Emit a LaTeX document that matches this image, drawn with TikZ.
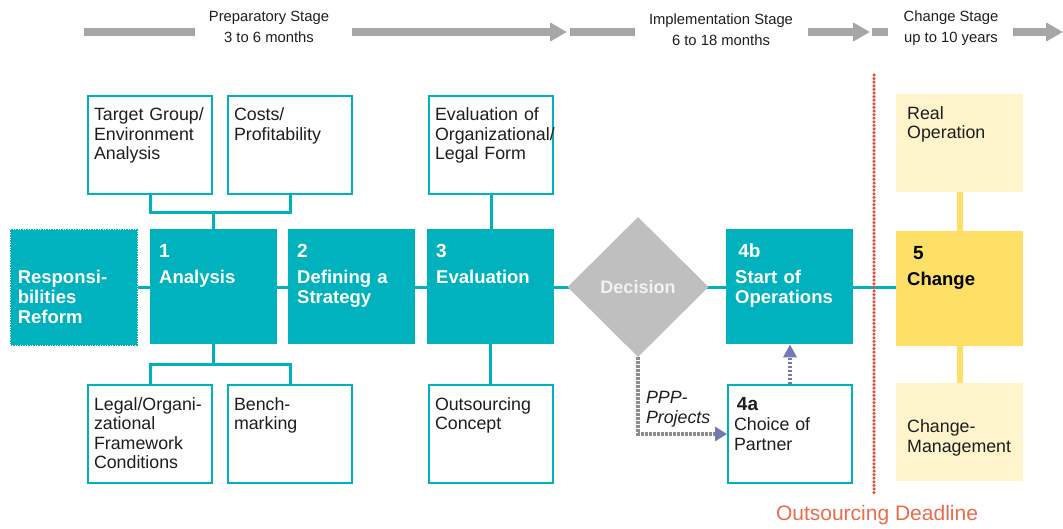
\documentclass[tikz,border=0pt]{standalone}
\usepackage{fontspec}
\setmainfont{Liberation Sans}
\usetikzlibrary{shapes.geometric,arrows.meta,backgrounds}

\definecolor{stepteal}{RGB}{0,178,190}
\definecolor{decgrey}{RGB}{191,191,191}
\definecolor{bargrey}{RGB}{166,166,166}
\definecolor{dotgrey}{RGB}{140,140,140}
\definecolor{arrowblue}{RGB}{116,120,180}
\definecolor{changeyellow}{RGB}{255,224,102}
\definecolor{paleyellow}{RGB}{255,244,204}
\definecolor{deadred}{RGB}{232,80,60}
\definecolor{deadtext}{RGB}{235,107,75}
\definecolor{textblack}{RGB}{30,30,30}

\begin{document}
\begin{tikzpicture}[x=1pt,y=-1pt,
    boxtext/.style={anchor=north west,align=left,inner xsep=6pt,inner ysep=6pt,
      text height=19pt,font=\fontsize{17.8}{19.5}\selectfont},
    subbox/.style={boxtext,draw=stepteal,line width=2pt,fill=white,text=textblack,
      text width=112pt,text depth=67pt},
    stepbox/.style={boxtext,fill=stepteal,text=white,text width=109pt,inner xsep=9pt,
      text height=22pt,text depth=81pt,font=\fontsize{18.5}{20}\selectfont\bfseries},
    yellowbox/.style={boxtext,fill=paleyellow,text=textblack,text width=105pt,
      inner xsep=11pt,text depth=67pt},
    link/.style={draw=stepteal,line width=3pt},
    yellowlink/.style={draw=changeyellow,line width=6pt},
    stagebar/.style={draw=bargrey,line width=8pt},
    stagearrow/.style={stagebar,-{Triangle[length=17pt,width=18pt]}},
    stagetext/.style={align=center,text=textblack,font=\fontsize{14.8}{21}\selectfont},
  ]
    \useasboundingbox (0,0) rectangle (1063,529);
    %% stage arrows on top
    \node[stagetext] (prep) at (269,27) {Preparatory Stage\\3 to 6 months};
    \node[stagetext] (impl) at (721,30) {Implementation Stage\\6 to 18 months};
    \node[stagetext] (chst) at (951,28) {Change Stage\\up to 10 years};
    \coordinate (b1s) at (84,32);   \coordinate (b1e) at (195,32);
    \coordinate (b2s) at (352,32);  \coordinate (b2e) at (567,32);
    \coordinate (b3s) at (570,32);  \coordinate (b3e) at (635,32);
    \coordinate (b4s) at (808,32);  \coordinate (b4e) at (870,32);
    \coordinate (b5s) at (872,32);  \coordinate (b5e) at (888,32);
    \coordinate (b6s) at (1013,32); \coordinate (b6e) at (1063,32);
    \draw[stagebar] (b1s) -- (b1e);
    \draw[stagearrow] (b2s) -- (b2e);
    \draw[stagebar] (b3s) -- (b3e);
    \draw[stagearrow] (b4s) -- (b4e);
    \draw[stagebar] (b5s) -- (b5e);
    \draw[stagearrow] (b6s) -- (b6e);
    %% main steps
    \node[stepbox,draw=stepteal,line width=1.5pt,dash pattern=on 1.5pt off 1pt,
      inner xsep=7pt,text width=112pt] (resp) at (10,229) {\mbox{}\\[6pt]Responsi-\\bilities\\Reform};
    \node[stepbox] (ana) at (150,229) {{\fontsize{19}{20}\selectfont 1}\\[6pt]Analysis};
    \node[stepbox] (strat) at (288,229) {{\fontsize{19}{20}\selectfont 2}\\[6pt]Defining a\\Strategy};
    \node[stepbox] (eval) at (427,229) {{\fontsize{19}{20}\selectfont 3}\\[6pt]Evaluation};
    \node[diamond,fill=decgrey,minimum width=141pt,minimum height=140pt,inner sep=0pt,
      text=white!95!black,font=\fontsize{18}{20}\selectfont\bfseries] (dec) at (638,287) {Decision};
    \node[stepbox] (sop) at (726,229) {\,{\fontsize{19}{20}\selectfont 4b}\\[6pt]Start of\\Operations};
    \node[stepbox,fill=changeyellow,text=black,inner xsep=11pt,text width=105pt] (chg) at (896,231)
      {\hspace*{6pt}{\fontsize{19}{20}\selectfont 5}\\[6pt]Change};
    %% upper boxes
    \node[subbox] (tg) at (87,95) {Target Group/\\Environment\\Analysis};
    \node[subbox] (cost) at (227,95) {Costs/\\Profitability};
    \node[subbox] (orgf) at (428,95) {Evaluation of\\Organizational/\\Legal Form};
    \node[yellowbox] (realop) at (896,94) {Real\\Operation};
    %% lower boxes
    \node[subbox] (legal) at (87,384) {Legal/Organi-\\zational\\Framework\\Conditions};
    \node[subbox] (bench) at (227,384) {Bench-\\marking};
    \node[subbox] (outs) at (428,384) {Outsourcing\\Concept};
    \node[subbox] (ca) at (727,384)
      {\,{\fontsize{19}{20}\selectfont\bfseries 4a}\\[1pt]Choice of\\Partner};
    \node[yellowbox] (cmgmt) at (896,383) {\mbox{}\\[5pt]Change-\\Management};
    %% main line behind the steps
    \begin{scope}[on background layer]
        \draw[link] (resp.east) -- (resp.east -| chg.west);
    \end{scope}
    %% trees
    \draw[link] (tg.south) -- ++(0,18) -| (cost.south);
    \draw[link] (ana.north) -- ++(0,-18);
    \draw[link] (legal.north) -- ++(0,-20) -| (bench.north);
    \draw[link] (ana.south) -- ++(0,20);
    \draw[link] (orgf.south) -- (orgf.south |- eval.north);
    \draw[link] (eval.south) -- (eval.south |- outs.north);
    \draw[yellowlink] (realop.south) -- (realop.south |- chg.north);
    \draw[yellowlink] (chg.south) -- (chg.south |- cmgmt.north);
    %% PPP path and partner
    \draw[draw=dotgrey,line width=4pt,dash pattern=on 2.5pt off 1.5pt,
      -{Triangle[length=12pt,width=14pt,color=arrowblue]}] (dec.south) |- (ca.west)
      node[pos=0.34,anchor=west,align=left,inner xsep=6pt,text=textblack,
        font=\fontsize{17.8}{19.5}\selectfont\itshape] (ppp) {PPP-\\Projects};
    \draw[draw=arrowblue,line width=4pt,dash pattern=on 2.5pt off 1.5pt,
      -{Triangle[length=13pt,width=13pt]}] (ca.north) -- (ca.north |- sop.south);
    %% outsourcing deadline
    \coordinate (dtop) at (874,75);
    \coordinate (dbot) at (874,495);
    \draw[deadred,line width=3.5pt,line cap=round,dash pattern=on 0pt off 3.6pt] (dtop) -- (dbot);
    \node[text=deadtext,font=\fontsize{21}{24}\selectfont] (dline) at (877,515) {Outsourcing Deadline};
\end{tikzpicture}
\end{document}
